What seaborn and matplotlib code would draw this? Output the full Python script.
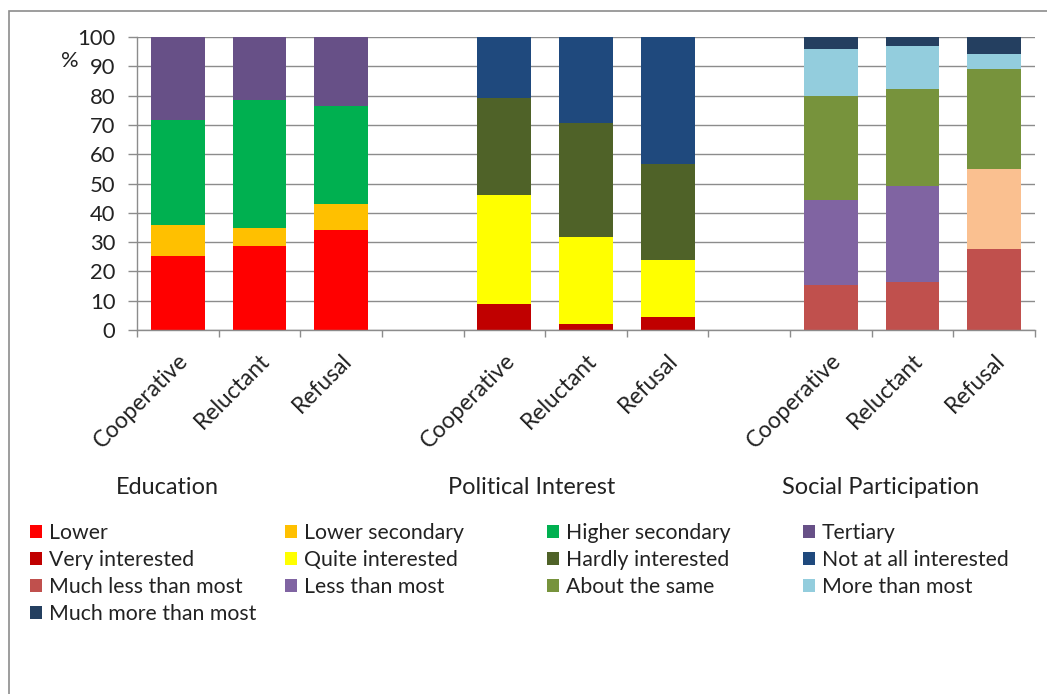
import numpy as np
import pandas as pd
import matplotlib
matplotlib.use("Agg")
import matplotlib.pyplot as plt
import matplotlib.transforms as mtransforms
from matplotlib.patches import Patch, Rectangle
import seaborn as sns

# ---- data -------------------------------------------------------------
groups = ["Education", "Political Interest", "Social Participation"]
statuses = ["Cooperative", "Reluctant", "Refusal"]

education_labels = ["Lower", "Lower secondary", "Higher secondary", "Tertiary"]
political_labels = ["Very interested", "Quite interested", "Hardly interested",
                    "Not at all interested"]
social_labels = ["Much less than most", "Less than most", "About the same",
                 "More than most", "Much more than most"]

# percentages per status (Cooperative, Reluctant, Refusal), bottom to top
education = [[25.2, 10.5, 35.9, 28.4],
             [28.5, 6.4, 43.5, 21.6],
             [34.0, 9.1, 33.3, 23.6]]
political = [[8.9, 37.1, 33.1, 20.9],
             [2.0, 29.9, 38.8, 29.3],
             [4.3, 19.5, 32.9, 43.3]]
social = [[15.2, 29.3, 35.4, 15.9, 4.2],
          [16.4, 32.8, 33.0, 14.7, 3.1],
          [27.6, 27.5, 33.9, 5.3, 5.7]]

education_colors = ["#FF0000", "#FFC000", "#00B050", "#675087"]
political_colors = ["#C00000", "#FFFF00", "#4F6228", "#1F497D"]
social_colors = ["#C0504D", "#8064A2", "#77933C", "#93CDDD", "#243F60"]
refusal_less_color = "#FAC090"

# ---- long table of stacked segments ----------------------------------
rows = []
blocks = [(education, education_colors), (political, political_colors),
          (social, social_colors)]
for g, (block, colors) in enumerate(blocks):
    for s, segs in enumerate(block):
        pos = g * 4 + s
        tops = np.cumsum(segs)
        n = len(segs)
        for k in range(n):
            c = colors[k]
            if g == 2 and s == 2 and k == 1:
                c = refusal_less_color
            rows.append(dict(pos=pos, top=tops[k], color=c, rank=n - 1 - k))
df = pd.DataFrame(rows)

# ---- style ------------------------------------------------------------
sns.set_theme(style="white")
plt.rcParams["font.family"] = ["Lato", "DejaVu Sans"]
text_color = "#222222"
grid_color = "#8C8C8C"
fs_legend = 15.3
fs_ytick = 15.8
fs_xtick = 16.5
fs_title = 16.9

W, H = 1047, 694
fig = plt.figure(figsize=(W / 100, H / 100), dpi=100)
ax = fig.add_axes([137 / W, 1 - 330 / H, (1035 - 137) / W, (330 - 37) / H])
ax.set_axisbelow(True)

# stacked bars: draw cumulative tops from the top segment downwards
for r, layer in df.groupby("rank"):
    pal = {c: c for c in layer["color"].unique()}
    sns.barplot(data=layer, x="pos", y="top", hue="color", palette=pal,
                native_scale=True, dodge=False, width=0.66, saturation=1,
                legend=False, errorbar=None, linewidth=0, ax=ax)

ax.set_xlim(-0.5, 10.5)
ax.set_ylim(0, 100)
ax.set_xlabel("")
ax.set_ylabel("")

# y axis
ax.set_yticks(np.arange(0, 101, 10))
ax.yaxis.grid(True, color=grid_color, lw=1.0)
ax.tick_params(axis="y", length=6.5, width=1.0, color=grid_color, pad=9,
               labelsize=fs_ytick, labelcolor=text_color, left=True)

# x axis: labels under bars, tick marks on slot edges
bar_pos = [g * 4 + s for g in range(3) for s in range(3)]
ax.set_xticks(bar_pos)
ax.set_xticklabels(statuses * 3, rotation=45, ha="right", va="center",
                   rotation_mode="anchor", fontsize=fs_xtick, color=text_color)
ax.set_xticks(np.arange(-0.5, 10.6, 1), minor=True)
ax.tick_params(axis="x", which="major", length=0, pad=19.5)
ax.tick_params(axis="x", which="minor", length=5, width=1.0,
               color=grid_color, bottom=True)
shift = mtransforms.ScaledTranslation(7 / 100, 0, fig.dpi_scale_trans)
for lab in ax.get_xticklabels():
    lab.set_transform(lab.get_transform() + shift)

for side in ["top", "right"]:
    ax.spines[side].set_visible(False)
for side in ["left", "bottom"]:
    ax.spines[side].set_color(grid_color)
    ax.spines[side].set_linewidth(1.0)

fig.text(70 / W, 1 - 61 / H, "%", ha="center", va="center",
         fontsize=fs_ytick, color=text_color)

# group titles
for gx, name in zip([167, 532, 881], groups):
    fig.text(gx / W, 1 - 487 / H, name, ha="center", va="center",
             fontsize=fs_title, color=text_color)

# legend: four columns laid out row by row
all_labels = education_labels + political_labels + social_labels
all_colors = education_colors + political_colors + social_colors
col_x = [30, 285, 547, 803]
for c in range(4):
    idx = list(range(c, len(all_labels), 4))
    handles = [Patch(facecolor=all_colors[i], edgecolor="none") for i in idx]
    labels = [all_labels[i] for i in idx]
    fig.legend(handles, labels, loc="upper left",
               bbox_to_anchor=(col_x[c] / W, 1 - 523 / H),
               frameon=False, fontsize=fs_legend, labelcolor=text_color,
               handlelength=0.55, handleheight=0.55, handletextpad=0.33,
               labelspacing=0.335, borderpad=0, borderaxespad=0)

# chart frame
fig.patches.append(Rectangle((9 / W, -0.05), 1.2, 1 - 11 / H + 0.05,
                             transform=fig.transFigure, fill=False,
                             edgecolor="#8C8C8C", lw=1.2))

fig.savefig("out.png", dpi=100)
